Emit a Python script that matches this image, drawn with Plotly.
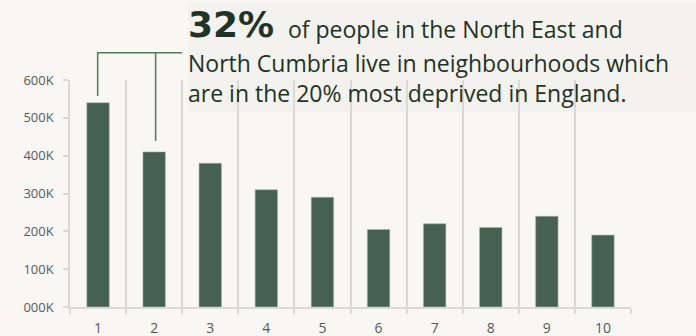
import plotly.graph_objects as go

categories = ["1", "2", "3", "4", "5", "6", "7", "8", "9", "10"]
people = [540000, 410000, 380000, 310000, 290000, 205000, 220000, 210000, 240000, 190000]
y_tick_values = [0, 100000, 200000, 300000, 400000, 500000, 600000]
y_tick_labels = ["000K", "100K", "200K", "300K", "400K", "500K", "600K"]
headline_figure = "32%"
headline_line1 = "of people in the North East and"
headline_line2 = "North Cumbria live in neighbourhoods which"
headline_line3 = "are in the 20% most deprived in England."

W, H = 696, 336
L, R, T, B = 70, 64.5, 80, 29
PW, PH = W - L - R, H - T - B


def px(x):
    return (x - L) / PW


def py(y):
    return (H - B - y) / PH


BG = "#f8f7f3"
BAR = "#466150"
TXT = "#1f3326"
GRID = "#d9d9d9"
LINE = "#557a55"
FONT = "Open Sans, Noto Sans, sans-serif"

xpos = list(range(1, len(categories) + 1))

fig = go.Figure(
    go.Bar(
        x=xpos,
        y=people,
        width=0.4,
        marker=dict(color=BAR, line=dict(color="#a9b8ad", width=0.6)),
        hoverinfo="skip",
    )
)

fig.update_layout(
    width=W,
    height=H,
    margin=dict(l=L, r=R, t=T, b=B, autoexpand=False),
    paper_bgcolor=BG,
    plot_bgcolor=BG,
    showlegend=False,
    font=dict(family=FONT, color="#595959", size=12),
)

fig.update_xaxes(
    automargin=False,
    range=[0.5, len(categories) + 0.5],
    tickmode="array",
    tickvals=xpos,
    ticktext=categories,
    ticks="",
    showgrid=False,
    zeroline=False,
    showline=True,
    linecolor=GRID,
    linewidth=1.5,
    ticklabelstandoff=7,
    tickfont=dict(family=FONT, size=14, color="#595959"),
    minor=dict(
        tickmode="array",
        tickvals=[i + 0.5 for i in range(0, len(categories) + 1)],
        ticks="outside",
        ticklen=5,
        tickcolor=GRID,
        tickwidth=1.5,
        showgrid=True,
        gridcolor=GRID,
        gridwidth=1.5,
    ),
)

fig.update_yaxes(
    automargin=False,
    range=[0, 600000],
    tickmode="array",
    tickvals=y_tick_values,
    ticktext=y_tick_labels,
    ticks="outside",
    ticklen=5,
    tickcolor=GRID,
    tickwidth=1.5,
    showgrid=False,
    zeroline=False,
    showline=True,
    linecolor=GRID,
    linewidth=1.5,
    ticklabelstandoff=7,
    tickfont=dict(family=FONT, size=13, color="#595959"),
)

# text box background
fig.add_shape(
    type="rect", xref="paper", yref="paper",
    x0=px(188), x1=px(696), y0=py(112), y1=py(2),
    fillcolor="#f3f2ee", line=dict(width=0), layer="below",
)

# connector lines
fig.add_shape(
    type="path", xref="paper", yref="paper",
    path=f"M {px(97.7)},{py(96)} L {px(97.7)},{py(52.7)} L {px(182)},{py(52.7)}",
    line=dict(color=LINE, width=1.5),
)
fig.add_shape(
    type="line", xref="paper", yref="paper",
    x0=px(155.7), x1=px(155.7), y0=py(141), y1=py(52.7),
    line=dict(color=LINE, width=1.5),
)

fig.add_annotation(
    xref="paper", yref="paper", x=px(186), y=py(24),
    xanchor="left", yanchor="middle", showarrow=False,
    text=f"<b>{headline_figure}</b>",
    font=dict(family="DejaVu Sans", size=36, color=TXT),
)
fig.add_annotation(
    xref="paper", yref="paper", x=px(286), y=py(29),
    xanchor="left", yanchor="middle", showarrow=False,
    text=headline_line1,
    font=dict(family=FONT, size=23, color=TXT),
)
fig.add_annotation(
    xref="paper", yref="paper", x=px(186), y=py(63),
    xanchor="left", yanchor="middle", showarrow=False,
    text=headline_line2,
    font=dict(family=FONT, size=23, color=TXT),
)
fig.add_annotation(
    xref="paper", yref="paper", x=px(186), y=py(93),
    xanchor="left", yanchor="middle", showarrow=False,
    text=headline_line3,
    font=dict(family=FONT, size=23, color=TXT),
)

fig.write_html("out.html")
